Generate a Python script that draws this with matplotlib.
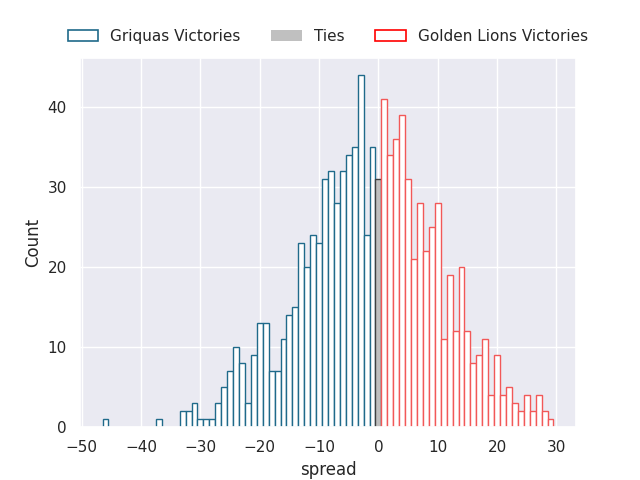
import matplotlib
matplotlib.use("Agg")
import matplotlib.pyplot as plt
import seaborn as sns
from matplotlib.patches import Patch

sns.set_theme(style="darkgrid")
plt.rcParams['font.family'] = ['DejaVu Sans']

griquas_spread = [-46, -37, -33, -32, -31, -30, -29, -28, -27, -26, -25, -24, -23, -22,
                  -21, -20, -19, -18, -17, -16, -15, -14, -13, -12, -11, -10, -9, -8,
                  -7, -6, -5, -4, -3, -2, -1]
griquas_count = [1, 1, 2, 2, 3, 1, 1, 1, 3, 5, 7, 10, 8, 3,
                 9, 13, 13, 7, 7, 11, 14, 15, 23, 20, 24, 23, 31, 32,
                 28, 32, 34, 35, 44, 24, 35]

ties_spread = [0]
ties_count = [31]

lions_spread = [1, 2, 3, 4, 5, 6, 7, 8, 9, 10, 11, 12, 13, 14, 15, 16, 17, 18, 19, 20,
                21, 22, 23, 24, 25, 26, 27, 28, 29]
lions_count = [41, 34, 36, 39, 31, 21, 28, 22, 25, 28, 11, 19, 12, 20, 12, 8, 9, 11, 4, 9,
               4, 5, 3, 2, 4, 2, 4, 2, 1]

blue = '#1f6a8a'
red_bar = '#f25858'
fig, ax = plt.subplots(figsize=(6.4, 4.8), dpi=100)

ax.bar(griquas_spread, griquas_count, width=1.0, color='white', edgecolor=blue, linewidth=1.0)
ax.bar(ties_spread, ties_count, width=1.0, color='#bfbfbf', edgecolor='#404040', linewidth=1.0)
ax.bar(lions_spread, lions_count, width=1.0, color='white', edgecolor=red_bar, linewidth=1.0)

ax.set_xlabel('spread')
ax.set_ylabel('Count')
ax.set_xticks([-50, -40, -30, -20, -10, 0, 10, 20, 30])

handles = [Patch(facecolor='white', edgecolor=blue, linewidth=1.2, label='Griquas Victories'),
           Patch(facecolor='silver', edgecolor='none', label='Ties'),
           Patch(facecolor='white', edgecolor='red', linewidth=1.2, label='Golden Lions Victories')]
ax.legend(handles=handles, loc='lower center', bbox_to_anchor=(0.5, 1.0), ncol=3,
          frameon=False, fontsize=11)

fig.savefig('out.png', dpi=100)
